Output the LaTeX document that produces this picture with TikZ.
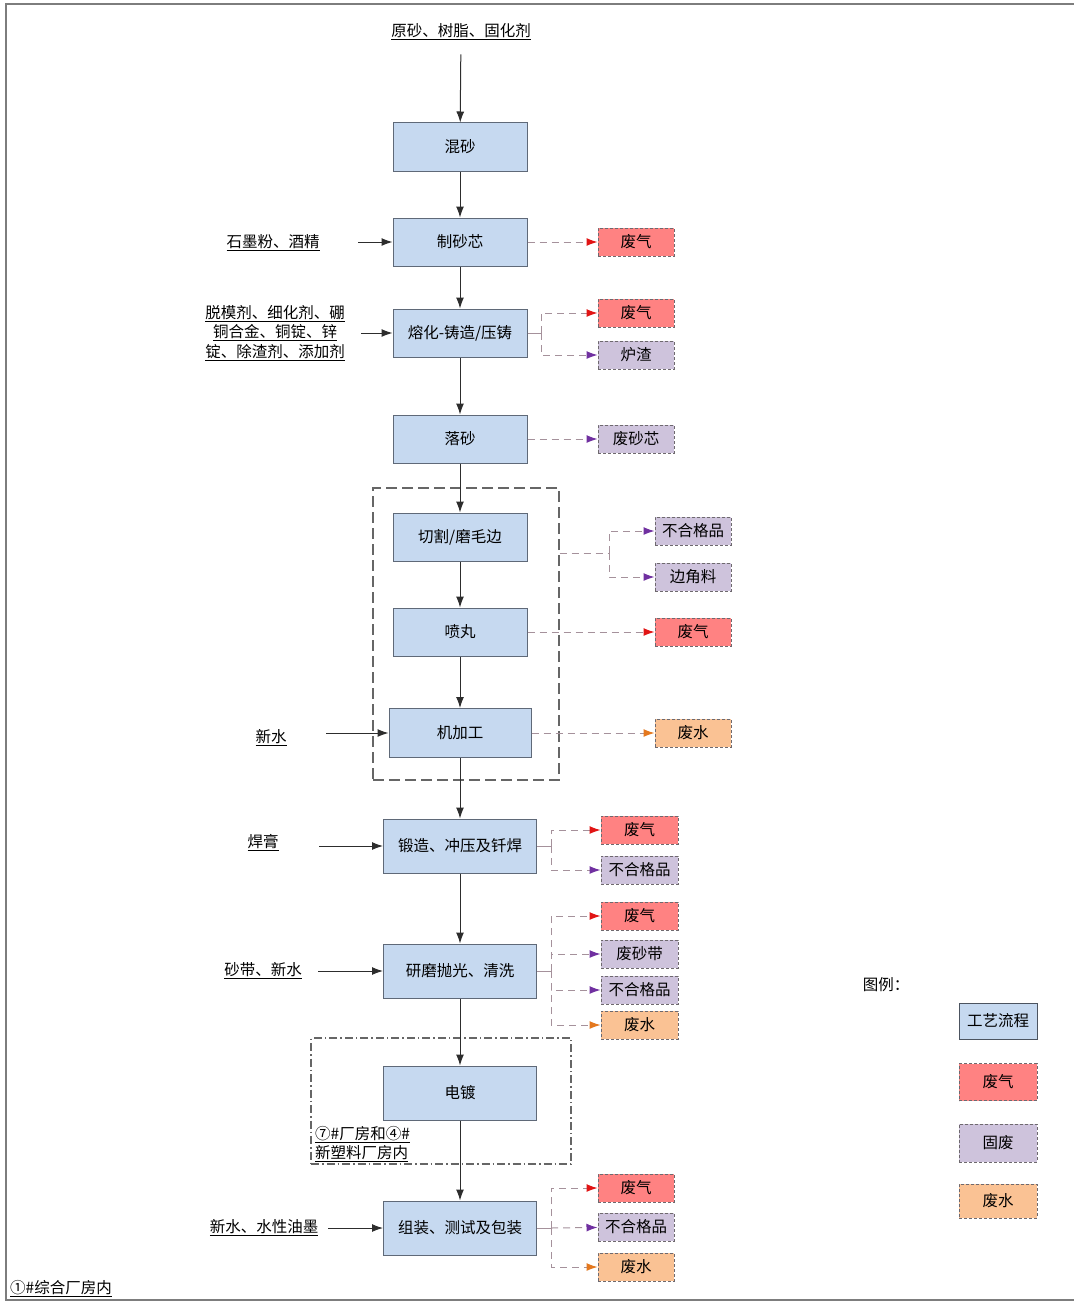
\documentclass[tikz,border=0pt]{standalone}
\usepackage{fontspec}
\setmainfont{Noto Sans CJK SC}
\usetikzlibrary{arrows.meta}
\definecolor{procf}{RGB}{198,217,240}
\definecolor{procd}{RGB}{95,105,120}
\definecolor{gasf}{RGB}{255,130,130}
\definecolor{solf}{RGB}{206,195,220}
\definecolor{watf}{RGB}{250,194,148}
\definecolor{outd}{RGB}{110,105,110}
\definecolor{dashc}{RGB}{165,145,155}
\definecolor{arrc}{RGB}{45,45,45}
\definecolor{tipred}{RGB}{225,20,20}
\definecolor{tippur}{RGB}{112,48,160}
\definecolor{tipora}{RGB}{228,120,30}
\definecolor{framec}{RGB}{125,125,125}
\begin{document}
\begin{tikzpicture}[x=1pt,y=-1pt,
  every node/.style={font=\fontsize{15.5pt}{19.5pt}\selectfont, inner sep=0pt, text=black},
  proc/.style={draw=procd, fill=procf, line width=1pt, minimum width=134pt, minimum height=48pt},
  procw/.style={proc, minimum width=153pt, minimum height=54pt},
  outbox/.style={draw=outd, dash pattern=on 3pt off 2pt, line width=1pt, minimum width=76pt, minimum height=28pt},
  gas/.style={outbox, fill=gasf},
  sol/.style={outbox, fill=solf},
  wat/.style={outbox, fill=watf},
  arr/.style={draw=arrc, line width=1pt, -{Latex[length=11pt,width=8pt]}},
  darr/.style={draw=dashc, line width=1pt, dash pattern=on 7pt off 5pt},
  stub/.style={draw=dashc, line width=1pt},
  tipR/.style={-{Latex[length=11pt,width=8pt,color=tipred]}},
  tipP/.style={-{Latex[length=11pt,width=8pt,color=tippur]}},
  tipO/.style={-{Latex[length=11pt,width=8pt,color=tipora]}},
  grpbox/.style={draw=black!60, line width=1.4pt, dash pattern=on 11pt off 5pt, minimum width=186pt, minimum height=292pt},
  ddbox/.style={draw=black!60, line width=1.2pt, dash pattern=on 8pt off 3pt on 1.5pt off 3pt, minimum width=260pt, minimum height=126pt},
  lab/.style={align=center}
]
\useasboundingbox (0,0) rectangle (1073,1303);
\draw[framec, line width=2pt] (1080,4) -- (6,4) -- (6,1300) -- (1080,1300);

% groups
\node[grpbox] (grp) at (466,634) {};
\node[ddbox] (plate) at (441,1101) {};

% process boxes
\node[proc] (hs) at (460,147) {混砂};
\node[proc] (zsx) at (460,242) {制砂芯};
\node[proc] (rh) at (460,333) {熔化-铸造/压铸};
\node[proc] (ls) at (460,439) {落砂};
\node[proc] (qg) at (460,537) {切割/磨毛边};
\node[proc] (pw) at (460,632) {喷丸};
\node[proc, minimum width=142pt, minimum height=49pt] (jjg) at (460,733) {机加工};
\node[procw] (dz) at (460,846) {锻造、冲压及钎焊};
\node[procw] (ym) at (460,971) {研磨抛光、清洗};
\node[procw] (dd) at (460,1093) {电镀};
\node[procw] (zz) at (460,1228) {组装、测试及包装};

% main flow
\node[lab] (top) at (461,32) {\underline{原砂、树脂、固化剂}};
\draw[arr, shorten <=14pt] (top) -- (hs);
\draw[arr] (hs) -- (zsx);
\draw[arr] (zsx) -- (rh);
\draw[arr] (rh) -- (ls);
\draw[arr] (ls) -- (qg);
\draw[arr] (qg) -- (pw);
\draw[arr] (pw) -- (jjg);
\draw[arr] (jjg) -- (dz);
\draw[arr] (dz) -- (ym);
\draw[arr] (ym) -- (dd);
\draw[arr] (dd) -- (zz);

% inputs
\node[lab] (i1) at (273,243) {\underline{石墨粉、酒精}};
\coordinate (i1s) at (358,242);
\draw[arr] (i1s) -- (zsx);
\node[lab] (i2) at (275,333) {\underline{脱模剂、细化剂、硼}\\\underline{铜合金、铜锭、锌}\\\underline{锭、除渣剂、添加剂}};
\coordinate (i2s) at (361,333);
\draw[arr] (i2s) -- (rh);
\node[lab] (i3) at (271,738) {\underline{新水}};
\coordinate (i3s) at (326,733);
\draw[arr] (i3s) -- (jjg);
\node[lab] (i4) at (263,843) {\underline{焊膏}};
\coordinate (i4s) at (319,846);
\draw[arr] (i4s) -- (dz);
\node[lab] (i5) at (263,971) {\underline{砂带、新水}};
\coordinate (i5s) at (318,971);
\draw[arr] (i5s) -- (ym);
\node[lab] (i6) at (264,1228) {\underline{新水、水性油墨}};
\coordinate (i6s) at (328,1228);
\draw[arr] (i6s) -- (zz);

% outputs
\node[gas] (o1) at (636,242) {废气};
\draw[darr, tipR] (zsx) -- (o1);

\node[gas] (o2a) at (636,313) {废气};
\node[sol] (o2b) at (636,355) {炉渣};
\coordinate (b2) at (541,333);
\draw[stub] (rh) -- (b2);
\draw[darr, tipR] (b2) |- (o2a);
\draw[darr, tipP] (b2) |- (o2b);

\node[sol] (o3) at (636,439) {废砂芯};
\draw[darr, tipP] (ls) -- (o3);

\node[sol] (o4a) at (693,531) {不合格品};
\node[sol] (o4b) at (693,577) {边角料};
\coordinate (b4) at (609,553);
\draw[darr] (grp.east |- b4) -- (b4);
\draw[darr, tipP] (b4) |- (o4a);
\draw[darr, tipP] (b4) |- (o4b);

\node[gas] (o5) at (693,632) {废气};
\draw[darr, tipR] (pw) -- (o5);

\node[wat] (o6) at (693,733) {废水};
\draw[darr, tipO] (jjg) -- (o6);

\node[gas, minimum width=77pt] (o7a) at (639.5,830) {废气};
\node[sol, minimum width=77pt] (o7b) at (639.5,870) {不合格品};
\coordinate (b7) at (551,846);
\draw[stub] (dz) -- (b7);
\draw[darr, tipR] (b7) |- (o7a);
\draw[darr, tipP] (b7) |- (o7b);

\node[gas, minimum width=77pt] (o8a) at (639.5,916) {废气};
\node[sol, minimum width=77pt] (o8b) at (639.5,954) {废砂带};
\node[sol, minimum width=77pt] (o8c) at (639.5,990) {不合格品};
\node[wat, minimum width=77pt] (o8d) at (639.5,1025) {废水};
\coordinate (b8) at (551,971);
\draw[stub] (ym) -- (b8);
\draw[darr, tipR] (b8) |- (o8a);
\draw[darr, tipP] (b8) |- (o8b);
\draw[darr, tipP] (b8) |- (o8c);
\draw[darr, tipO] (b8) |- (o8d);

\node[gas] (o9a) at (636,1188) {废气};
\node[sol] (o9b) at (636,1227) {不合格品};
\node[wat] (o9c) at (636,1267) {废水};
\coordinate (b9) at (551,1228);
\draw[stub] (zz) -- (b9);
\draw[darr, tipR] (b9) |- (o9a);
\draw[darr, tipP] (b9) -- (o9b);
\draw[darr, tipO] (b9) |- (o9c);

% area labels
\node[anchor=west, align=left] (area2) at (315,1144) {\underline{⑦\#厂房和④\#}\\\underline{新塑料厂房内}};
\node[anchor=west] (area1) at (10,1289) {\underline{①\#综合厂房内}};

% legend
\node (lg) at (886,985) {图例：};
\node[proc, draw=procd!80!black, minimum width=78pt, minimum height=36pt] (lg1) at (998,1021) {工艺流程};
\node[gas, minimum width=78pt, minimum height=37pt] (lg2) at (998,1082) {废气};
\node[sol, minimum width=78pt, minimum height=38pt] (lg3) at (998,1143) {固废};
\node[wat, minimum width=78pt, minimum height=34pt] (lg4) at (998,1201) {废水};
\end{tikzpicture}
\end{document}
